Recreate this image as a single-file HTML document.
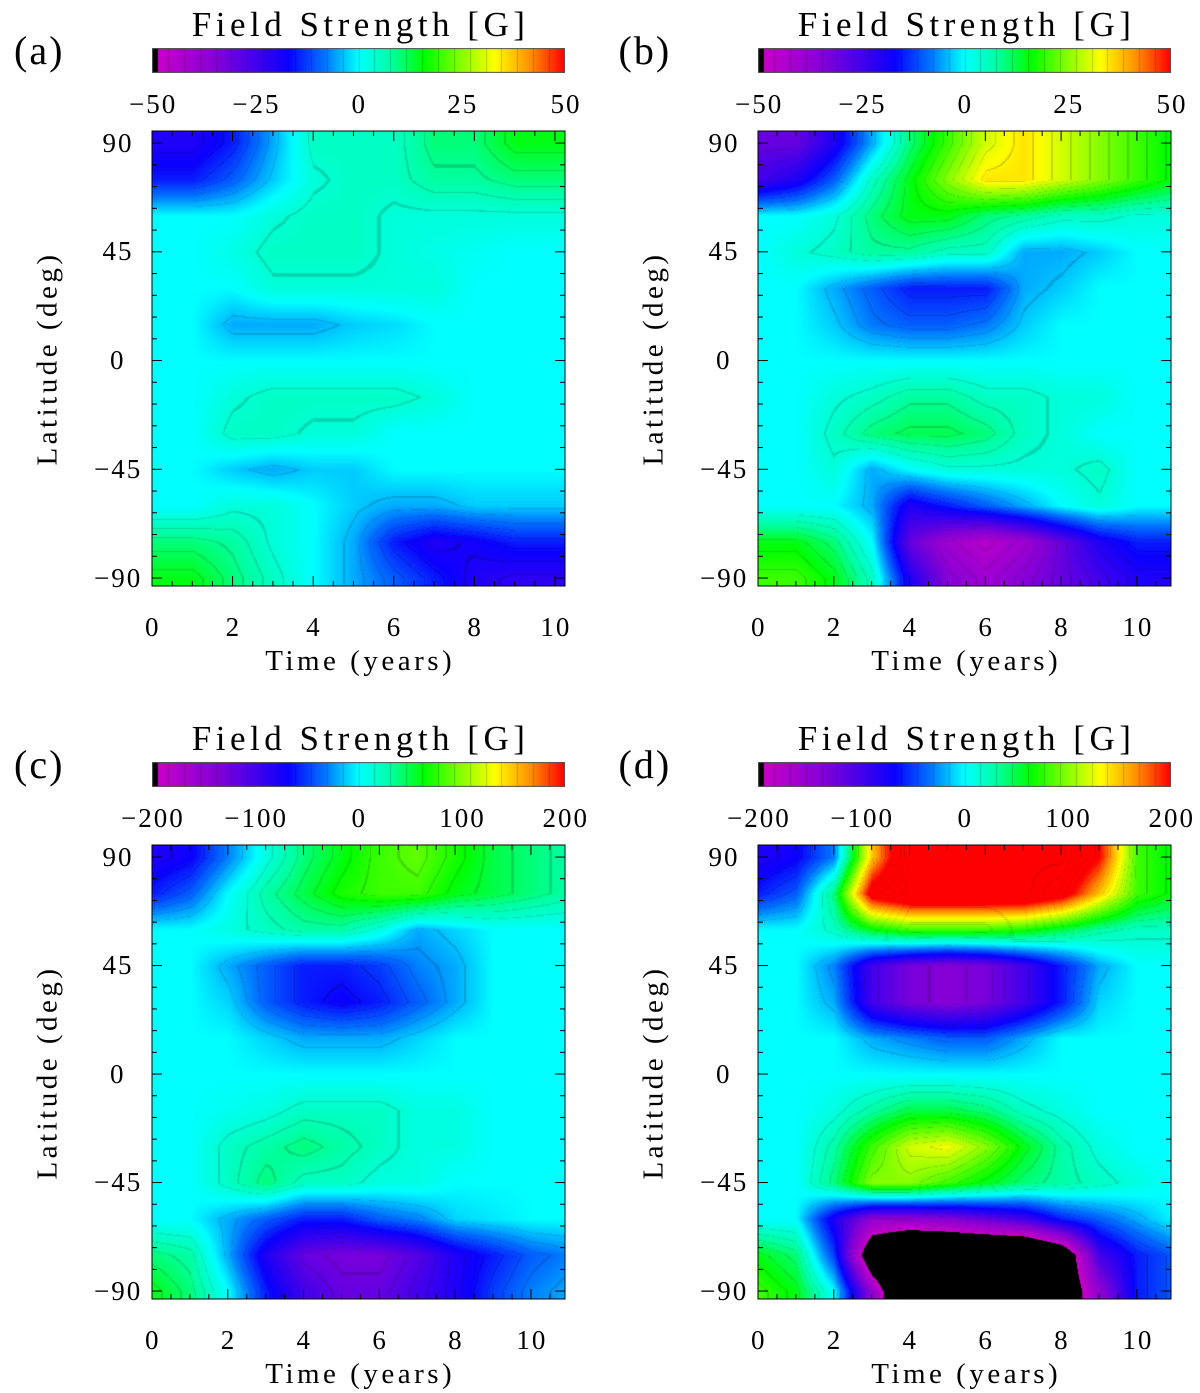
<!DOCTYPE html>
<html><head><meta charset="utf-8">
<style>
body{margin:0;background:#fff;}
#root{position:relative;width:1200px;height:1393px;overflow:hidden;background:#fff;font-family:"Liberation Serif",serif;color:#000;}
.t{position:absolute;white-space:nowrap;line-height:1;}
canvas{position:absolute;}
svg{position:absolute;left:0;top:0;}
</style></head>
<body>
<div id="root"></div>
<script>
// ---------- data ----------
const lats = [90,75,60,45,30,15,0,-15,-30,-45,-60,-75,-90];
const times = [0,1,2,3,4,5,6,7,8,9,10,11];
const fieldA = [
[-20,-20,-15,-5,5,5,5,10,10,15,15,15],
[-15,-15,-10,-3,3,5,5,8,8,10,10,10],
[0,0,0,3,5,5,3,3,3,3,3,3],
[0,0,2,5,5,5,3,2,1,0,0,0],
[0,0,0,3,3,3,3,3,0,0,0,0],
[0,0,-5,-5,-5,-3,-2,0,0,0,0,0],
[0,0,0,0,0,0,0,0,0,0,0,0],
[0,0,3,5,5,5,5,3,0,0,0,0],
[0,0,5,5,3,3,0,0,0,0,0,0],
[0,0,-3,-5,-3,-3,0,0,0,0,0,0],
[0,0,3,3,0,-3,-5,-5,-3,-3,-3,-3],
[10,10,8,3,0,-5,-15,-20,-18,-15,-15,-15],
[15,15,10,5,0,-5,-10,-15,-20,-22,-22,-22]];
const fieldB = [
[-30,-30,-20,-5,10,20,30,35,30,25,20,15],
[-25,-20,-10,5,15,25,35,35,30,25,20,15],
[0,0,3,10,15,15,10,8,5,5,3,3],
[0,3,5,8,8,5,5,-5,-5,-3,0,0],
[0,0,-5,-10,-15,-15,-15,-5,-3,0,0,0],
[0,0,-3,-8,-10,-10,-8,-3,0,0,0,0],
[0,0,0,0,0,0,0,0,0,0,0,0],
[0,0,3,5,8,8,5,5,3,3,0,0],
[0,0,5,10,12,12,10,5,3,0,0,0],
[0,0,3,-5,0,3,3,3,3,5,0,0],
[0,0,0,-5,-20,-15,-10,-5,0,3,0,0],
[15,15,10,0,-30,-40,-45,-40,-30,-20,-15,-15],
[20,20,15,5,-20,-35,-40,-35,-30,-25,-20,-20]];
const fieldC = [
[-80,-70,-30,10,40,60,80,90,70,50,40,30],
[-60,-40,0,30,50,70,80,80,60,50,40,30],
[0,0,10,20,30,30,10,-20,-10,0,0,0],
[0,0,-20,-40,-60,-60,-50,-30,-20,0,0,0],
[0,0,-10,-40,-60,-70,-60,-40,-20,0,0,0],
[0,0,0,-10,-20,-20,-20,-10,0,0,0,0],
[0,0,0,0,0,0,0,0,0,0,0,0],
[0,0,5,10,20,20,20,10,10,0,0,0],
[0,0,20,30,40,30,20,10,10,0,0,0],
[0,0,20,40,20,20,10,10,0,0,0,0],
[0,0,-20,-40,-60,-60,-40,-30,-10,-5,0,0],
[40,30,-20,-80,-120,-130,-130,-110,-80,-60,-40,-30],
[60,40,0,-60,-100,-120,-120,-100,-80,-50,-30,-20]];
const fieldD = [
[-80,-70,-30,150,250,250,250,250,250,200,80,60],
[-60,-40,40,220,250,250,250,250,220,150,80,60],
[0,0,20,60,80,80,80,70,50,30,20,20],
[0,0,-30,-100,-130,-140,-130,-100,-60,-20,0,0],
[0,0,-20,-100,-130,-140,-130,-100,-60,-10,0,0],
[0,0,0,-20,-30,-40,-40,-20,0,0,0,0],
[0,0,0,0,0,0,0,0,0,0,0,0],
[0,0,10,30,50,50,40,20,10,0,0,0],
[0,0,30,80,120,130,100,60,30,10,0,0],
[0,0,40,100,100,80,60,40,30,20,10,0],
[0,0,-80,-150,-150,-140,-120,-100,-60,-40,-20,0],
[60,40,-50,-250,-300,-300,-300,-300,-250,-100,-60,-40],
[80,60,0,-150,-300,-300,-300,-300,-250,-150,-60,-40]];
const cbTicksSmall = [-50,-25,0,25,50];
const cbTicksLarge = [-200,-100,0,100,200];
const xTicksA = [0,2,4,6,8,10];
const xTicksB = [0,2,4,6,8,10];
const yTicks = [90,45,0,-45,-90];

// ---------- colormap ----------
const stops=[[0,[0,0,0]],[0.012,[0,0,0]],[0.013,[200,0,200]],[0.16,[130,0,215]],[0.33,[10,0,255]],[0.42,[0,120,255]],[0.5,[0,255,255]],[0.58,[0,255,160]],[0.66,[0,255,0]],[0.83,[255,255,0]],[0.92,[255,140,0]],[1,[255,0,0]]];
function cmap(f){
  if(f<=0)return [0,0,0]; if(f>=1)return [255,0,0];
  for(let i=1;i<stops.length;i++){if(f<=stops[i][0]){const a=stops[i-1],b=stops[i];const u=(f-a[0])/(b[0]-a[0]||1);return [0,1,2].map(k=>Math.round(a[1][k]+(b[1][k]-a[1][k])*u));}}
  return [255,0,0];
}
const root=document.getElementById('root');
const NS='http://www.w3.org/2000/svg';
const svg=document.createElementNS(NS,'svg');svg.setAttribute('width',1200);svg.setAttribute('height',1393);


function txt(s,x,y,size,name,ls,rot){const d=document.createElement('div');d.className='t';d.textContent=s;d.style.fontSize=size+'px';d.style.letterSpacing=(ls||0)+'px';
 
 
 root.appendChild(d);const w=d.offsetWidth-(ls||0),h=d.offsetHeight;d.style.left=(x-w/2)+'px';d.style.top=(y-h/2)+'px';if(rot)d.style.transform='rotate(-90deg)';return d;}
function line(x1,y1,x2,y2,name){const l=document.createElementNS(NS,'line');l.setAttribute('x1',x1);l.setAttribute('y1',y1);l.setAttribute('x2',x2);l.setAttribute('y2',y2);l.setAttribute('stroke','#000');l.setAttribute('stroke-width',1);
 
 
 svg.appendChild(l);}

function panel(p){
  const {x0,y0,w,h,tmax,field,vmax,label,ticks,cbTicks,id}=p;
  const cv=document.createElement('canvas');cv.width=w;cv.height=h;cv.style.left=x0+'px';cv.style.top=y0+'px';
  
  
  root.appendChild(cv);
  const ctx=cv.getContext('2d');const img=ctx.createImageData(w,h);
  const latTop=95,latBot=-93.3;
  for(let py=0;py<h;py++){
    const lat=latTop-(latTop-latBot)*py/h;
    let r=(90-lat)/15; r=Math.max(0,Math.min(lats.length-1.0001,r));const ri=Math.floor(r),rf=r-ri;
    for(let px=0;px<w;px++){
      const t=px/w*tmax;let c=Math.max(0,Math.min(times.length-1.0001,t));const ci=Math.floor(c),cf=c-ci;
      const v=field[ri][ci]*(1-rf)*(1-cf)+field[ri][ci+1]*(1-rf)*cf+field[ri+1][ci]*rf*(1-cf)+field[ri+1][ci+1]*rf*cf;
      const col=cmap((v/vmax+1)/2);const k=(py*w+px)*4;
      const lv=v/vmax*20+0.5; const fr=Math.abs(lv-Math.round(lv));const dk=fr<0.04&&Math.abs(v)>vmax*0.03?0.85:1;
      img.data[k]=col[0]*dk;img.data[k+1]=col[1]*dk;img.data[k+2]=col[2]*dk;img.data[k+3]=255;
    }
  }
  ctx.putImageData(img,0,0);
  const f=document.createElementNS(NS,'rect');f.setAttribute('x',x0);f.setAttribute('y',y0);f.setAttribute('width',w);f.setAttribute('height',h);f.setAttribute('fill','none');f.setAttribute('stroke','#000');
  
  
  svg.appendChild(f);
  const X=t=>x0+t/tmax*w, Y=lat=>y0+(95-lat)/(95+93.3)*h;
  for(let t=0;t<=tmax;t+=0.5){const maj=Math.abs(t-Math.round(t/2)*2)<1e-6;const L=maj?10:5;line(X(t),y0+h,X(t),y0+h-L,'x-tick');line(X(t),y0,X(t),y0+L,'x-tick');}
  ticks.forEach(t=>txt(String(t),X(t),y0+h+41,27,'x-tick-label',2));
  for(let lat=-90;lat<=90;lat+=9){const maj=lat%45===0;const L=maj?10:5;line(x0,Y(lat),x0+L,Y(lat),'y-tick');line(x0+w,Y(lat),x0+w-L,Y(lat),'y-tick');}
  yTicks.forEach(l=>txt(String(l).replace('-','\u2212'),x0-35,Y(l),27,'y-tick-label',2));
  txt('Time (years)',x0+w/2,y0+h+75,29,'x-axis-title',3.5);
  txt('Latitude (deg)',x0-106,y0+h/2,29,'y-axis-title',3.5,true);
  const cy=y0-83,ch=25;
  const cb=document.createElement('canvas');cb.width=w;cb.height=ch;cb.style.left=x0+'px';cb.style.top=cy+'px';
  
  
  root.appendChild(cb);const c2=cb.getContext('2d');
  for(let i=0;i<w;i++){const col=cmap(i/(w-1));c2.fillStyle=`rgb(${col})`;c2.fillRect(i,0,1,ch);}
  c2.strokeStyle='rgba(0,0,0,0.2)';for(let i=1;i<26;i++){const xx=Math.round(i*w/26)+.5;c2.beginPath();c2.moveTo(xx,0);c2.lineTo(xx,ch);c2.stroke();}
  c2.strokeStyle='#555';c2.strokeRect(.5,.5,w-1,ch-1);
  cbTicks.forEach((v,i)=>txt(String(v).replace('-','\u2212'),x0+i/(cbTicks.length-1)*w,cy+56,27,'colorbar-tick-label',2));
  txt('Field Strength [G]',x0+w/2,cy-24,35,'colorbar-title',4.5);
  txt(label,x0-114,cy+3,40,'panel-label',2);
}
panel({id:'a',x0:152,y0:131,w:413,h:455,tmax:10.25,field:fieldA,vmax:50,label:'(a)',ticks:xTicksA,cbTicks:cbTicksSmall});
panel({id:'b',x0:758,y0:131,w:413,h:455,tmax:10.9,field:fieldB,vmax:50,label:'(b)',ticks:xTicksB,cbTicks:cbTicksSmall});
panel({id:'c',x0:152,y0:845,w:413,h:454,tmax:10.9,field:fieldC,vmax:200,label:'(c)',ticks:xTicksB,cbTicks:cbTicksLarge});
panel({id:'d',x0:758,y0:845,w:413,h:454,tmax:10.9,field:fieldD,vmax:200,label:'(d)',ticks:xTicksB,cbTicks:cbTicksLarge});
root.appendChild(svg);
</script>
</body></html>
